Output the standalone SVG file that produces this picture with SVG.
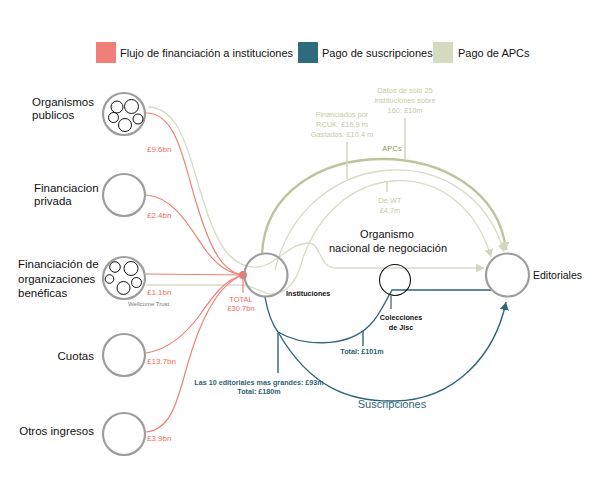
<svg xmlns="http://www.w3.org/2000/svg" width="596" height="494" viewBox="0 0 596 494">
<defs>
<style>
text{font-family:"Liberation Sans",Arial,sans-serif}
.node{fill:none;stroke:#9d9d9d;stroke-width:2.2}
.sub{fill:none;stroke:#111;stroke-width:1}
.lbl{font-size:11.5px;fill:#111}
.leg{font-size:11px;fill:#111}
.amt{font-size:8px;fill:#ef6d62}
.fund{fill:none;stroke:#f07e74;stroke-width:1.2}
.apc{fill:none;stroke:#d8dbc7;stroke-width:1.3}
.apcMain{fill:none;stroke:#bcc49e;stroke-width:2.4}
.sus{fill:none;stroke:#2f6679;stroke-width:1.4}
.apcTxt{font-size:7.4px;fill:#c4caa8;text-anchor:middle}
.apcPtr{stroke:#d3d7c1;stroke-width:1.6}
.susTxt{font-size:7.2px;fill:#2f5f72;font-weight:bold;text-anchor:middle}
.susPtr{stroke:#2f6679;stroke-width:1.4}
.small{font-size:7.2px;fill:#111;font-weight:bold}
</style>
<marker id="arrA" markerWidth="9" markerHeight="9" refX="8" refY="4.5" orient="auto" markerUnits="userSpaceOnUse"><path d="M0,0 L8,4.5 L0,9 Z" fill="#d3d8bd"/></marker>
<marker id="arrS" markerWidth="9" markerHeight="9" refX="8" refY="4.5" orient="auto" markerUnits="userSpaceOnUse"><path d="M0,0 L8,4.5 L0,9 Z" fill="#2f6679"/></marker>
</defs>
<rect width="596" height="494" fill="#fff"/>

<g id="legend">
<rect x="96" y="42" width="20" height="21" fill="#f07f7a"/>
<text class="leg" x="120" y="57">Flujo de financiación a instituciones</text>
<rect x="298" y="42" width="20" height="21" fill="#2e6b7d"/>
<text class="leg" x="322" y="57">Pago de suscripciones</text>
<rect x="433" y="42" width="20" height="21" fill="#d5dac0"/>
<text class="leg" x="458" y="57">Pago de APCs</text>
</g>

<g id="connectors">
<path class="apc" d="M148,107 C182,107 190,160 204,203 C217,245 232,269 258,267 C275,266 288,244 308,243 C322,243 318,268 336,268 L484,268" marker-end="url(#arrA)"/>
<path class="apc" d="M275,270 C305,145 470,135 504,252" marker-end="url(#arrA)"/>
<path class="apc" d="M146,285 L240,285 C256,285 264,297 278,293 C290,290 296,279 300,268 C330,157 460,150 491,257" marker-end="url(#arrA)"/>
<path class="apcMain" d="M262,254 C268,128 492,128 506,250" marker-end="url(#arrA)"/>
<path class="fund" d="M146,113 C178,113 184,165 197,205 C210,248 222,272 243,275"/>
<path class="fund" d="M146,195 C176,197 192,232 207,252 C218,266 228,273 243,275"/>
<path class="fund" d="M146,274 L243,275"/>
<path class="fund" d="M146,353 C170,349 186,333 199,316 C213,296 225,279 243,275"/>
<path class="fund" d="M146,432 C170,430 177,403 186,370 C197,330 214,285 243,275"/>
<line class="fund" x1="243" y1="278" x2="243" y2="293"/>
<circle cx="243" cy="275" r="4" fill="#f07a70"/>
<path class="sus" d="M265,297 Q269,320 278,332"/>
<path class="sus" d="M278,332 C300,345 345,350 370,325 C380,315 386,300 392,290 L491,290"/>
<path class="sus" d="M278,332 C310,388 350,402 395,401 C455,400 495,355 506,302" marker-end="url(#arrS)"/>
<line class="susPtr" x1="278" y1="333" x2="278" y2="373"/>
<line class="susPtr" x1="363" y1="331" x2="363" y2="346"/>
<line class="apcPtr" x1="347" y1="142" x2="347" y2="179"/>
<line class="apcPtr" x1="405" y1="118" x2="405" y2="159"/>
<line class="apcPtr" x1="387" y1="182" x2="387" y2="192"/>
<line x1="391" y1="296" x2="391" y2="309" stroke="#999" stroke-width="2"/>
</g>

<g id="apc-labels">
<text x="392" y="151" font-size="7.6" fill="#8f9a5a" text-anchor="middle">APCs</text>
<text class="apcTxt" x="342" y="117">Financiados por</text>
<text class="apcTxt" x="342" y="127">RCUK: £16.9 m</text>
<text class="apcTxt" x="342" y="137">Gastados: £10.4 m</text>
<text class="apcTxt" x="405" y="93">Datos de solo 25</text>
<text class="apcTxt" x="405" y="103">instituciones sobre</text>
<text class="apcTxt" x="405" y="113">160: £10m</text>
<text class="apcTxt" x="390" y="203">De WT</text>
<text class="apcTxt" x="390" y="213">£4.7m</text>
</g>

<g id="sus-labels">
<text class="susTxt" x="259" y="385">Las 10 editoriales mas grandes: £93m</text>
<text class="susTxt" x="259" y="394">Total: £180m</text>
<text class="susTxt" x="362" y="354">Total: £101m</text>
<text x="392" y="408" font-size="11" fill="#2f6679" text-anchor="middle">Suscripciones</text>
</g>

<g id="n-organismos">
<circle class="node" cx="124" cy="114" r="21"/>
<circle class="sub" cx="117" cy="107" r="6"/>
<circle class="sub" cx="131.5" cy="106.5" r="7"/>
<circle class="sub" cx="113.5" cy="117.5" r="5"/>
<circle class="sub" cx="125" cy="125" r="6.5"/>
<circle class="sub" cx="138" cy="119" r="5"/>
<text class="lbl" x="32" y="106">Organismos</text>
<text class="lbl" x="32" y="119">publicos</text>
<text class="amt" x="147" y="152">£9.6bn</text>
</g>

<g id="n-privada">
<circle class="node" cx="124" cy="195" r="21"/>
<text class="lbl" x="34" y="192">Financiacion</text>
<text class="lbl" x="34" y="205">privada</text>
<text class="amt" x="147" y="218">£2.4bn</text>
</g>

<g id="n-beneficas">
<circle class="node" cx="124" cy="278" r="21"/>
<circle class="sub" cx="115" cy="267" r="5.3"/>
<circle class="sub" cx="131" cy="268.5" r="7"/>
<circle class="sub" cx="109.5" cy="279" r="4.3"/>
<circle class="sub" cx="123.5" cy="288" r="6.5"/>
<circle class="sub" cx="136.5" cy="282.5" r="5"/>
<text class="lbl" x="18" y="268">Financiación de</text>
<text class="lbl" x="18" y="283">organizaciones</text>
<text class="lbl" x="18" y="297">benéficas</text>
<text class="amt" x="147" y="295">£1.1bn</text>
<text x="128" y="306" font-size="6" fill="#777">Wellcome Trust</text>
</g>

<g id="n-cuotas">
<circle class="node" cx="124" cy="355" r="21"/>
<text class="lbl" x="94" y="360" text-anchor="end">Cuotas</text>
<text class="amt" x="147" y="364">£13.7bn</text>
</g>

<g id="n-otros">
<circle class="node" cx="124" cy="434" r="21"/>
<text class="lbl" x="94" y="435" text-anchor="end">Otros ingresos</text>
<text class="amt" x="147" y="441">£3.9bn</text>
</g>

<g id="n-instituciones">
<circle class="node" cx="266" cy="275" r="21.5"/>
<text class="small" x="286" y="296">Instituciones</text>
<text x="241" y="302" font-size="7.5" fill="#ef6d62" text-anchor="middle">TOTAL</text>
<text x="241" y="311" font-size="7.5" fill="#ef6d62" text-anchor="middle">£30.7bn</text>
</g>

<g id="n-organismo-nacional">
<text x="387" y="238" font-size="11" fill="#111" text-anchor="middle">Organismo</text>
<text x="388" y="252" font-size="11" fill="#111" text-anchor="middle">nacional de negociación</text>
</g>

<g id="n-jisc">
<circle cx="395" cy="280" r="15.5" fill="none" stroke="#111" stroke-width="1.1"/>
<text class="small" x="401" y="320" text-anchor="middle">Colecciones</text>
<text class="small" x="401" y="330" text-anchor="middle">de Jisc</text>
</g>

<g id="n-editoriales">
<circle class="node" cx="507.5" cy="275" r="21.5"/>
<text x="533" y="279" font-size="10.5" fill="#111">Editoriales</text>
</g>
</svg>
